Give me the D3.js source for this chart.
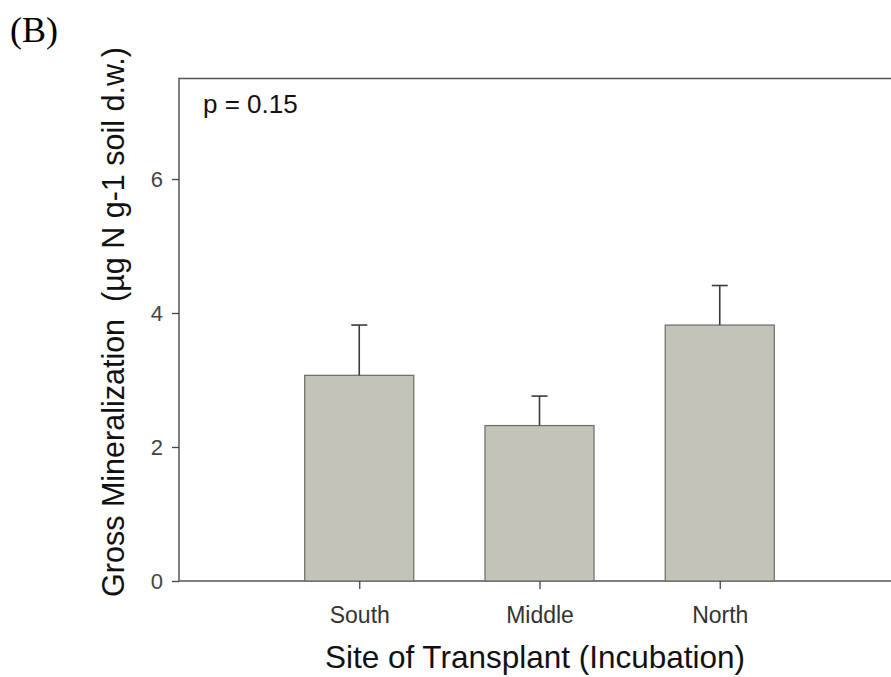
<!DOCTYPE html>
<html>
<head>
<meta charset="utf-8">
<script src="https://cdn.jsdelivr.net/npm/d3@7"></script>
<style>
  html, body { margin: 0; padding: 0; background: #fff; overflow: hidden; }
  svg { display: block; }
  text { font-family: "Liberation Sans", Arial, sans-serif; }
</style>
</head>
<body>
<svg id="chart" width="891" height="677"></svg>
<script>
// Gross N mineralization by transplant site
const sites = ["South", "Middle", "North"];
const means = [3.07, 2.32, 3.82];
const errors = [0.75, 0.44, 0.59];
const yTicks = [0, 2, 4, 6];
const pLabel = "p = 0.15";

const svg = d3.select("#chart");
const plotLeft = 179, plotTop = 78.5, plotRight = 900, plotBottom = 581;

const x = d3.scaleLinear().domain([0, 4]).range([plotLeft, plotRight]);
const y = d3.scaleLinear().domain([0, 7.5]).range([plotBottom, plotTop]);
const barW = (x(1) - x(0)) * 0.605;

// frame
svg.append("rect")
  .attr("x", plotLeft).attr("y", plotTop)
  .attr("width", plotRight - plotLeft).attr("height", plotBottom - plotTop)
  .attr("fill", "none").attr("stroke", "#555").attr("stroke-width", 1.5);

// bars
svg.selectAll("rect.bar").data(sites).enter().append("rect")
  .attr("class", "bar")
  .attr("x", (d, i) => x(i + 1) - barW / 2)
  .attr("y", (d, i) => y(means[i]))
  .attr("width", barW)
  .attr("height", (d, i) => y(0) - y(means[i]))
  .attr("fill", "#c3c3b9").attr("stroke", "#6a6a66").attr("stroke-width", 1.2);

// error bars (upper only)
const eb = svg.selectAll("g.err").data(sites).enter().append("g").attr("class", "err");
eb.append("line")
  .attr("x1", (d, i) => x(i + 1)).attr("x2", (d, i) => x(i + 1))
  .attr("y1", (d, i) => y(means[i])).attr("y2", (d, i) => y(means[i] + errors[i]))
  .attr("stroke", "#3a3a3a").attr("stroke-width", 1.6);
eb.append("line")
  .attr("x1", (d, i) => x(i + 1) - 8).attr("x2", (d, i) => x(i + 1) + 8)
  .attr("y1", (d, i) => y(means[i] + errors[i])).attr("y2", (d, i) => y(means[i] + errors[i]))
  .attr("stroke", "#3a3a3a").attr("stroke-width", 1.6);

// y axis
const yAxis = d3.axisLeft(y).tickValues(yTicks).tickSize(7).tickPadding(9).tickFormat(d3.format("d"));
const gy = svg.append("g").attr("transform", `translate(${plotLeft},0)`).call(yAxis);
gy.select(".domain").remove();
gy.selectAll("line").attr("stroke", "#444").attr("stroke-width", 1.3);
gy.selectAll("text").style("font-size", "22px").attr("fill", "#444");

// x axis
const xAxis = d3.axisBottom(x).tickValues([1, 2, 3]).tickSize(8).tickPadding(18)
  .tickFormat(d => sites[d - 1]);
const gx = svg.append("g").attr("transform", `translate(0,${plotBottom})`).call(xAxis);
gx.select(".domain").remove();
gx.selectAll("line").attr("stroke", "#444").attr("stroke-width", 1.3);
gx.selectAll("text").style("font-size", "23px").attr("fill", "#333");

// axis titles
svg.append("text")
  .attr("x", 535).attr("y", 668)
  .attr("text-anchor", "middle").style("font-size", "31.5px").attr("fill", "#111")
  .text("Site of Transplant (Incubation)");

svg.append("text")
  .attr("transform", "translate(124,322) rotate(-90)")
  .attr("text-anchor", "middle").style("font-size", "30.5px").style("white-space", "pre")
  .attr("fill", "#111")
  .text("Gross Mineralization  (\u00B5g N g-1 soil d.w.)");

// annotation
svg.append("text")
  .attr("x", 203).attr("y", 113)
  .style("font-size", "26px").attr("fill", "#111")
  .text(pLabel);

// panel letter
svg.append("text")
  .attr("x", 10).attr("y", 42)
  .style("font-family", "'Liberation Serif', 'Times New Roman', serif")
  .style("font-size", "36px").attr("fill", "#000")
  .text("(B)");
</script>
</body>
</html>
